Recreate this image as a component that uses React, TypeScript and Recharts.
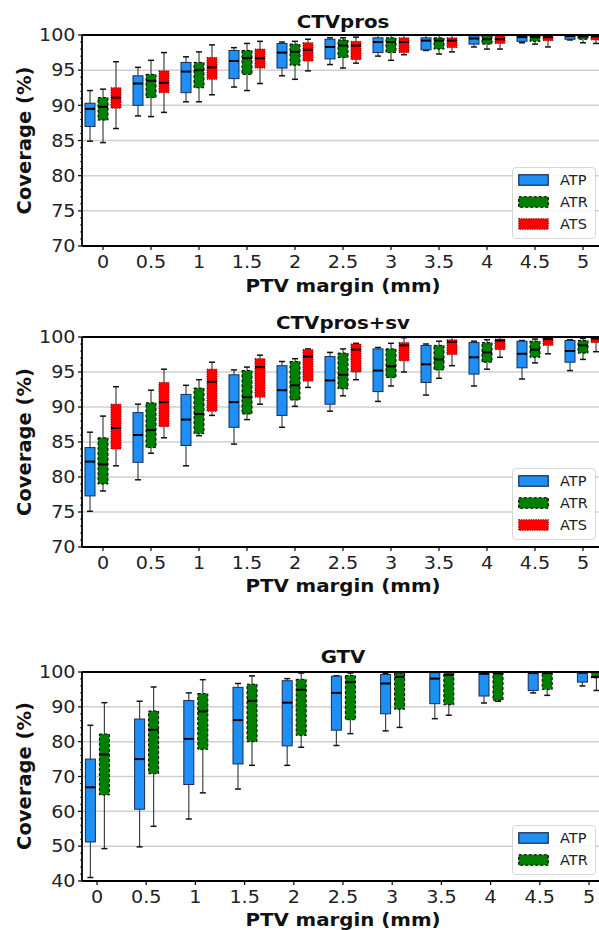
import React from "react";
import { Bar, CartesianGrid, ComposedChart, Legend, ReferenceLine, XAxis, YAxis } from "recharts";

// PTV margin categories (mm)
const margins = ["0", "0.5", "1", "1.5", "2", "2.5", "3", "3.5", "4", "4.5", "5"];

// box stats per margin: [min, q1, median, q3, max]
const ctvAtp = [
  [84.9, 87.0, 89.5, 90.3, 92.1],
  [88.5, 90.0, 93.1, 94.2, 95.4],
  [90.5, 91.8, 94.8, 96.1, 96.9],
  [92.6, 93.8, 96.3, 97.8, 98.2],
  [94.2, 95.3, 97.5, 98.8, 99.0],
  [95.8, 96.6, 98.3, 99.4, 99.6],
  [97.0, 97.5, 99.0, 99.6, 100],
  [97.8, 97.9, 99.2, 99.6, 100],
  [98.3, 98.7, 99.5, 99.9, 100],
  [98.9, 99.1, 99.7, 99.95, 100],
  [99.3, 99.4, 99.85, 100, 100],
];
const ctvAtr = [
  [84.7, 87.9, 89.8, 91.1, 92.3],
  [88.4, 91.1, 93.5, 94.4, 96.4],
  [90.5, 92.5, 95.0, 96.1, 97.6],
  [92.1, 94.4, 96.7, 97.8, 98.8],
  [93.7, 95.7, 97.6, 98.7, 99.1],
  [95.3, 96.8, 98.5, 99.3, 99.6],
  [96.4, 97.5, 99.0, 99.6, 100],
  [97.3, 98.0, 99.2, 99.6, 100],
  [98.0, 98.7, 99.4, 99.9, 100],
  [98.7, 99.1, 99.7, 99.95, 100],
  [98.9, 99.4, 99.8, 100, 100],
];
const ctvAts = [
  [86.7, 89.6, 91.1, 92.5, 96.2],
  [89.0, 91.8, 93.2, 94.9, 97.5],
  [91.5, 93.7, 95.4, 96.8, 98.6],
  [93.1, 95.3, 96.7, 98.0, 99.1],
  [94.9, 96.3, 97.9, 98.9, 99.4],
  [96.0, 96.5, 98.5, 99.1, 99.7],
  [97.2, 97.5, 99.0, 99.6, 100],
  [97.6, 98.2, 99.2, 99.6, 100],
  [98.0, 98.8, 99.4, 99.9, 100],
  [98.3, 99.2, 99.7, 99.95, 100],
  [98.8, 99.3, 99.8, 100, 100],
];

const svAtp = [
  [75.1, 77.3, 82.2, 84.2, 86.4],
  [79.6, 82.1, 86.0, 89.2, 90.4],
  [81.6, 84.5, 88.2, 91.8, 93.1],
  [84.7, 87.1, 90.7, 94.6, 95.3],
  [87.1, 88.8, 92.4, 95.9, 96.5],
  [89.4, 90.4, 93.8, 97.2, 97.8],
  [90.8, 92.2, 95.2, 98.3, 98.5],
  [91.7, 93.5, 96.1, 98.8, 99.0],
  [93.0, 94.7, 97.1, 99.2, 99.4],
  [94.0, 95.6, 97.6, 99.4, 99.5],
  [95.2, 96.4, 98.0, 99.5, 99.6],
];
const svAtr = [
  [78.0, 79.0, 81.8, 85.6, 88.7],
  [83.4, 84.2, 86.7, 90.6, 92.4],
  [85.9, 86.2, 89.0, 92.7, 93.9],
  [88.2, 89.0, 91.4, 95.2, 95.7],
  [90.1, 91.0, 93.1, 96.5, 96.9],
  [91.6, 92.6, 94.6, 97.7, 98.3],
  [93.0, 94.2, 95.8, 98.3, 99.1],
  [94.1, 95.3, 96.8, 98.8, 99.4],
  [95.4, 96.4, 97.8, 99.2, 99.6],
  [96.3, 97.1, 98.2, 99.4, 99.7],
  [96.8, 97.7, 98.8, 99.5, 99.8],
];
const svAts = [
  [81.6, 84.0, 87.0, 90.4, 92.9],
  [85.6, 87.2, 90.7, 93.5, 95.4],
  [88.8, 89.4, 93.6, 95.4, 96.4],
  [90.4, 91.4, 95.7, 96.9, 97.4],
  [92.8, 93.7, 97.2, 98.2, 98.3],
  [93.9, 95.0, 98.2, 99.0, 99.1],
  [95.0, 96.6, 98.8, 99.2, 99.9],
  [95.9, 97.5, 99.3, 99.6, 100],
  [97.1, 98.2, 99.5, 99.7, 100],
  [97.6, 98.8, 99.7, 99.9, 100],
  [97.9, 99.2, 99.8, 100, 100],
];

const gtvAtp = [
  [41.0, 51.2, 66.9, 75.0, 84.7],
  [49.8, 60.6, 75.0, 86.5, 91.6],
  [57.8, 67.7, 80.8, 91.8, 94.0],
  [66.4, 73.6, 86.2, 95.6, 96.7],
  [73.2, 78.8, 91.2, 97.5, 98.1],
  [78.9, 83.3, 94.0, 98.8, 98.9],
  [83.1, 88.0, 96.7, 99.3, 99.5],
  [86.6, 90.9, 98.1, 99.8, 100],
  [91.1, 93.1, 99.5, 100, 100],
  [94.0, 94.7, 99.7, 100, 100],
  [96.0, 97.1, 99.8, 100, 100],
];
const gtvAtr = [
  [49.3, 64.7, 76.3, 82.2, 91.2],
  [55.7, 70.8, 83.4, 88.8, 95.7],
  [65.3, 77.8, 88.7, 93.8, 97.8],
  [73.2, 80.0, 91.7, 96.5, 98.9],
  [78.4, 81.8, 94.9, 97.9, 99.7],
  [82.3, 86.3, 97.1, 99.0, 99.7],
  [84.1, 89.3, 98.6, 99.7, 100],
  [87.6, 90.6, 99.2, 99.9, 100],
  [91.6, 91.9, 99.6, 100, 100],
  [93.3, 95.0, 99.7, 100, 100],
  [94.7, 98.3, 98.6, 100, 100],
];

const ctvTicks = [70, 75, 80, 85, 90, 95, 100];
const gtvTicks = [40, 50, 60, 70, 80, 90, 100];

const STYLES: Record<string, { fill: string; stroke: string; dash?: string }> = {
  ATP: { fill: "#1e8ff5", stroke: "#1b2a50" },
  ATR: { fill: "#008000", stroke: "#000000", dash: "3 2" },
  ATS: { fill: "#ff0000", stroke: "#7a0000", dash: "1.2 1.2" },
};

// the source figure is stretched a little horizontally
const STRETCH = 1.1;

function buildRows(series: Record<string, number[][]>) {
  return margins.map((m, i) => {
    const row: any = { margin: m };
    Object.keys(series).forEach((k) => (row[k] = series[k][i]));
    return row;
  });
}

function minorTicks(lo: number, hi: number, step: number) {
  const out: number[] = [];
  for (let v = lo; v <= hi; v += step) out.push(v);
  return out;
}

function BoxShape(props: any) {
  const { x, y, width, height, stats, kind } = props;
  if (!stats) return null;
  const [min, q1, med, q3, max] = stats;
  const top = Math.min(y, y + height);
  const h = Math.abs(height);
  const span = max - min || 1;
  const py = (v: number) => top + ((max - v) / span) * h;
  const cx = x + width / 2;
  const st = STYLES[kind];
  const cap = 3;
  return (
    <g>
      <line x1={cx} x2={cx} y1={py(max)} y2={py(q3)} stroke="#444" strokeWidth={1.2} />
      <line x1={cx} x2={cx} y1={py(q1)} y2={py(min)} stroke="#444" strokeWidth={1.2} />
      <line x1={cx - cap} x2={cx + cap} y1={py(max)} y2={py(max)} stroke="#111" strokeWidth={1.5} />
      <line x1={cx - cap} x2={cx + cap} y1={py(min)} y2={py(min)} stroke="#111" strokeWidth={1.5} />
      <rect
        x={x}
        y={py(q3)}
        width={width}
        height={Math.max(py(q1) - py(q3), 0.5)}
        fill={st.fill}
        stroke={st.stroke}
        strokeWidth={1}
        strokeDasharray={st.dash}
      />
      <line x1={x} x2={x + width} y1={py(med)} y2={py(med)} stroke="#000" strokeWidth={2} />
    </g>
  );
}

function YTick(props: any) {
  const { x, y, payload, major } = props;
  const isMajor = payload.value % major === 0;
  return (
    <g>
      <line x1={x - (isMajor ? 4 : 2)} x2={x} y1={y} y2={y} stroke="#000" strokeWidth={isMajor ? 1.2 : 0.8} />
      {isMajor && (
        <text
          transform={`translate(${x - 6.5} ${y}) scale(${STRETCH} 1)`}
          dy="0.36em"
          textAnchor="end"
          fontSize={17.4}
          fill="#222"
        >
          {payload.value}
        </text>
      )}
    </g>
  );
}

function XTick(props: any) {
  const { x, y, payload } = props;
  return (
    <text
      transform={`translate(${x} ${y}) scale(${STRETCH} 1)`}
      dy="0.71em"
      textAnchor="middle"
      fontSize={17.4}
      fill="#222"
    >
      {payload.value}
    </text>
  );
}

function BoxLegend({ keys }: { keys: string[] }) {
  return (
    <div
      style={{
        width: 84,
        boxSizing: "border-box",
        border: "1px solid #d6d6d6",
        borderRadius: 4,
        background: "rgba(255,255,255,0.85)",
        padding: "1px 4px 3px 5px",
        fontFamily: "DejaVu Sans",
      }}
    >
      {keys.map((k) => (
        <div key={k} style={{ display: "flex", alignItems: "center", height: 22 }}>
          <svg width={31} height={12} style={{ display: "block" }}>
            <rect
              x={0.75}
              y={0.75}
              width={29.5}
              height={10.5}
              fill={STYLES[k].fill}
              stroke={STYLES[k].stroke}
              strokeWidth={1.2}
              strokeDasharray={STYLES[k].dash}
            />
          </svg>
          <span style={{ marginLeft: 11, fontSize: 14.5, color: "#222" }}>{k}</span>
        </div>
      ))}
    </div>
  );
}

function BoxPanel({
  series,
  domain,
  ticks,
  minorStep,
  majorStep,
  top,
  height,
  marginTop,
  axisHeight,
  pad,
  gap,
  legendTop,
}: any) {
  const keys = Object.keys(series);
  const rows = buildRows(series);
  const allTicks = minorTicks(domain[0], domain[1], minorStep);
  return (
    <div style={{ position: "absolute", left: 0, top }}>
      <ComposedChart
        width={604}
        height={height}
        data={rows}
        margin={{ top: marginTop, right: 0, bottom: 0, left: 0 }}
        barGap={gap}
      >
        <CartesianGrid vertical={false} horizontalValues={ticks} stroke="#d0d0d0" strokeWidth={1.5} />
        <XAxis
          dataKey="margin"
          type="category"
          interval={0}
          height={axisHeight}
          padding={{ left: -pad, right: -pad }}
          axisLine={{ stroke: "#000", strokeWidth: 1.8 }}
          tickLine={{ stroke: "#000", strokeWidth: 1.2 }}
          tickSize={4}
          tickMargin={6}
          tick={<XTick />}
        />
        <YAxis
          type="number"
          domain={domain}
          ticks={allTicks}
          width={82}
          interval={0}
          tickSize={0}
          tickMargin={0}
          tickLine={false}
          axisLine={{ stroke: "#000", strokeWidth: 1.8 }}
          tick={<YTick major={majorStep} />}
        />
        <ReferenceLine y={domain[1]} stroke="#000" strokeWidth={1.8} />
        {keys.map((k) => (
          <Bar
            key={k}
            dataKey={(row: any) => [row[k][0], row[k][4]]}
            name={k}
            barSize={10}
            isAnimationActive={false}
            shape={(p: any) => <BoxShape {...p} stats={p.payload[k]} kind={k} />}
          />
        ))}
        <Legend
          layout="vertical"
          align="center"
          verticalAlign="middle"
          wrapperStyle={{ left: 512, top: legendTop, width: 84 }}
          content={() => <BoxLegend keys={keys} />}
        />
      </ComposedChart>
    </div>
  );
}

const labelStyle: React.CSSProperties = { fontWeight: "bold", fontSize: 18, fill: "#111" };
const yLabelStyle: React.CSSProperties = { fontWeight: "bold", fontSize: 19.5, fill: "#111" };

function HLabel({ x, y, text }: { x: number; y: number; text: string }) {
  return (
    <text transform={`translate(${x} ${y}) scale(${STRETCH} 1)`} textAnchor="middle" style={labelStyle}>
      {text}
    </text>
  );
}

function VLabel({ x, y, text }: { x: number; y: number; text: string }) {
  return (
    <text transform={`translate(${x} ${y}) rotate(-90)`} textAnchor="middle" style={yLabelStyle}>
      {text}
    </text>
  );
}

export default function App() {
  return (
    <div
      style={{
        position: "absolute",
        left: 0,
        top: 0,
        width: 599,
        height: 930,
        overflow: "hidden",
        background: "#fff",
        fontFamily: "DejaVu Sans",
      }}
    >
      <BoxPanel
        series={{ ATP: ctvAtp, ATR: ctvAtr, ATS: ctvAts }}
        domain={[70, 100]}
        ticks={ctvTicks}
        minorStep={1}
        majorStep={5}
        top={0}
        height={300}
        marginTop={35}
        axisHeight={54}
        pad={3}
        gap={3}
        legendTop={167}
      />
      <BoxPanel
        series={{ ATP: svAtp, ATR: svAtr, ATS: svAts }}
        domain={[70, 100]}
        ticks={ctvTicks}
        minorStep={1}
        majorStep={5}
        top={300}
        height={300}
        marginTop={37}
        axisHeight={53}
        pad={3}
        gap={3}
        legendTop={168}
      />
      <BoxPanel
        series={{ ATP: gtvAtp, ATR: gtvAtr }}
        domain={[40, 100]}
        ticks={gtvTicks}
        minorStep={2}
        majorStep={10}
        top={620}
        height={310}
        marginTop={52}
        axisHeight={49}
        pad={9.6}
        gap={4}
        legendTop={205}
      />
      <svg width={599} height={930} style={{ position: "absolute", left: 0, top: 0, pointerEvents: "none" }}>
        <HLabel x={343} y={28} text="CTVpros" />
        <HLabel x={343} y={329} text="CTVpros+sv" />
        <HLabel x={343} y={663} text="GTV" />
        <HLabel x={343} y={291.5} text="PTV margin (mm)" />
        <HLabel x={343} y={591.5} text="PTV margin (mm)" />
        <HLabel x={343} y={926} text="PTV margin (mm)" />
        <VLabel x={31} y={140.5} text="Coverage (%)" />
        <VLabel x={31} y={442} text="Coverage (%)" />
        <VLabel x={31} y={776} text="Coverage (%)" />
      </svg>
    </div>
  );
}
